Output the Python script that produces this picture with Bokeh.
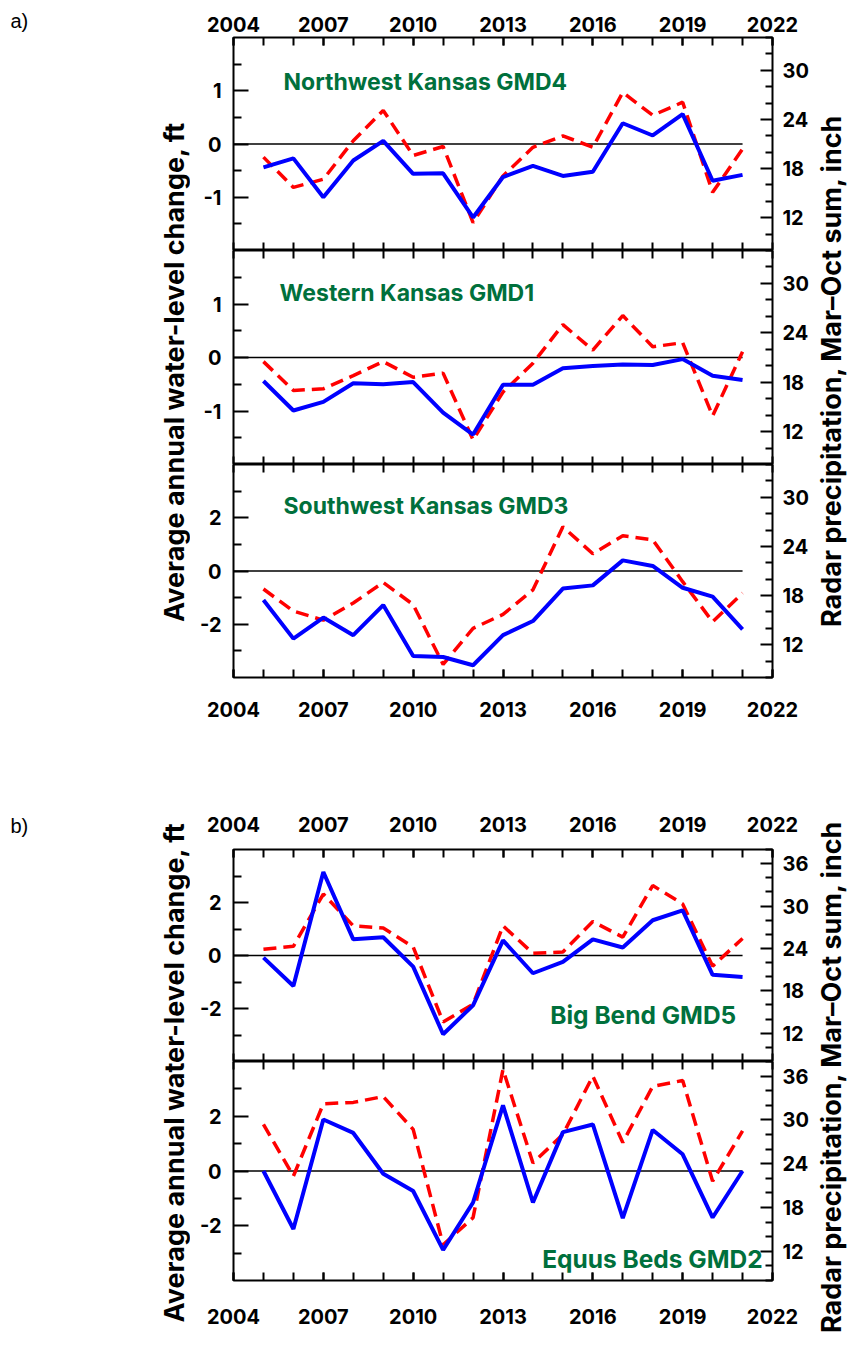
from math import pi
from bokeh.plotting import figure
from bokeh.models import Range1d, LinearAxis, FixedTicker, Label
from bokeh.layouts import column, row
from bokeh.embed import file_html
from bokeh.resources import INLINE

# ---------------- data ----------------
years = list(range(2005, 2022))
x_start, x_end = 2004, 2022
x_ticks = [2004, 2007, 2010, 2013, 2016, 2019, 2022]
x_minor_ticks = list(range(2004, 2023))

# Northwest Kansas GMD4
nw_level = [-0.44, -0.27, -1.00, -0.31, 0.06, -0.56, -0.55, -1.38, -0.62, -0.41,
            -0.60, -0.52, 0.39, 0.16, 0.56, -0.69, -0.58]
nw_precip = [19.4, 15.7, 16.7, 21.4, 25.1, 19.6, 20.7, 11.4, 17.1, 20.6,
             22.0, 20.6, 27.3, 24.5, 26.1, 15.1, 20.4]
# Western Kansas GMD1
w_level = [-0.44, -0.99, -0.83, -0.48, -0.50, -0.46, -1.03, -1.44, -0.51, -0.51,
           -0.20, -0.16, -0.13, -0.14, -0.03, -0.34, -0.42]
w_precip = [20.5, 17.0, 17.2, 18.8, 20.5, 18.6, 19.1, 11.0, 16.8, 20.3,
            25.0, 21.9, 26.1, 22.3, 22.8, 13.9, 21.7]
# Southwest Kansas GMD3
sw_level = [-1.09, -2.54, -1.75, -2.41, -1.28, -3.19, -3.23, -3.54, -2.41, -1.88,
            -0.66, -0.54, 0.40, 0.19, -0.63, -0.96, -2.19]
sw_precip = [18.8, 16.1, 15.0, 17.1, 19.6, 16.9, 9.6, 14.0, 15.7, 18.7,
             26.4, 23.1, 25.3, 24.8, 19.7, 14.8, 18.3]
# Big Bend GMD5
bb_level = [-0.08, -1.15, 3.15, 0.61, 0.69, -0.42, -2.97, -1.88, 0.57, -0.67,
            -0.24, 0.61, 0.30, 1.33, 1.70, -0.73, -0.81]
bb_precip = [23.9, 24.3, 31.7, 27.2, 26.9, 24.2, 13.6, 16.1, 27.2, 23.3,
             23.5, 27.8, 25.6, 32.9, 30.3, 21.5, 25.4]
# Equus Beds GMD2
eb_level = [0.00, -2.12, 1.88, 1.39, -0.10, -0.73, -2.88, -1.15, 2.40, -1.15,
            1.42, 1.70, -1.72, 1.50, 0.61, -1.70, 0.00]
eb_precip = [29.4, 22.3, 32.2, 32.4, 33.2, 28.7, 12.9, 16.6, 36.9, 24.1,
             28.0, 36.0, 26.9, 34.6, 35.4, 21.6, 28.5]

# tick labels
left_ticks_small = [-1, 0, 1]
left_labels_small = ["-1", "0", "1"]
left_minor_small = [-1.5, -0.5, 0.5, 1.5]
left_ticks_big = [-2, 0, 2]
left_labels_big = ["-2", "0", "2"]
left_minor_big = [-3, -1, 1, 3]
right_ticks = [12, 18, 24, 30, 36]
right_minor = [8, 10, 14, 16, 20, 22, 26, 28, 32, 34, 38]

left_title = "Average annual water-level change, ft"
right_title = "Radar precipitation, Mar\u2013Oct sum, inch"

# ---------------- style ----------------
FONT = "Inter"
GREEN = "#00703C"
BLUE = "#0000FF"
RED = "#FF0000"
FIG_W = 622
TICK_FONT = "20px"


def style_axis(ax, tick_in, minor_in, standoff):
    ax.axis_line_color = None
    ax.major_tick_out = 0
    ax.minor_tick_out = 0
    ax.major_tick_in = tick_in
    ax.minor_tick_in = minor_in
    ax.major_tick_line_width = 2
    ax.minor_tick_line_width = 2
    ax.major_tick_line_color = "black"
    ax.minor_tick_line_color = "black"
    ax.major_label_text_font = FONT
    ax.major_label_text_font_style = "bold"
    ax.major_label_text_color = "black"
    ax.major_label_text_font_size = TICK_FONT
    ax.major_label_standoff = standoff


def panel(level, precip, lrange, lticks, llabels, lminor, rrange, height,
          bl, br, bt, bb, show_top, show_bottom, st, sb,
          title, tx, ty, talign, tsize):
    p = figure(width=FIG_W, height=height,
               x_range=Range1d(x_start, x_end), y_range=Range1d(*lrange),
               x_axis_location=None, y_axis_location=None,
               output_backend="svg", toolbar_location=None,
               min_border_left=bl, min_border_right=br,
               min_border_top=bt, min_border_bottom=bb)
    p.grid.visible = False
    p.outline_line_color = "black"
    p.outline_line_width = 2
    p.background_fill_color = "white"
    p.border_fill_color = "white"
    p.extra_y_ranges = {"precip": Range1d(*rrange)}

    ax_b = LinearAxis(ticker=FixedTicker(ticks=x_ticks if show_bottom else [],
                                         minor_ticks=x_minor_ticks))
    ax_t = LinearAxis(ticker=FixedTicker(ticks=x_ticks if show_top else [],
                                         minor_ticks=x_minor_ticks))
    ax_l = LinearAxis(ticker=FixedTicker(ticks=lticks, minor_ticks=lminor),
                      major_label_overrides=dict(zip(lticks, llabels)))
    ax_r = LinearAxis(y_range_name="precip",
                      ticker=FixedTicker(ticks=right_ticks, minor_ticks=right_minor))
    style_axis(ax_b, 8, 8, sb)
    style_axis(ax_t, 8, 8, st)
    style_axis(ax_l, 15, 8, 12)
    style_axis(ax_r, 12, 7, 10)
    p.add_layout(ax_b, "below")
    p.add_layout(ax_t, "above")
    p.add_layout(ax_l, "left")
    p.add_layout(ax_r, "right")

    p.segment(x0=[x_start], y0=[0], x1=[years[-1]], y1=[0],
              line_color="black", line_width=1.5)
    p.line(years, precip, y_range_name="precip", line_color=RED,
           line_width=3.5, line_dash="13 7")
    p.line(years, level, line_color=BLUE, line_width=4)

    p.add_layout(Label(x=tx, y=ty, text=title, text_font=FONT,
                       text_font_style="bold", text_font_size=tsize,
                       text_color=GREEN, text_align=talign,
                       text_baseline="middle"))
    return p


f1 = panel(nw_level, nw_precip, (-2, 2), left_ticks_small, left_labels_small,
           left_minor_small, (8, 34), 250, 43, 40, 37, 0, True, False, 6, 0,
           "Northwest Kansas GMD4", 2005.67, 1.16, "left", "23px")
f2 = panel(w_level, w_precip, (-2, 2), left_ticks_small, left_labels_small,
           left_minor_small, (8, 34), 214, 43, 40, 0, 0, False, False, 0, 0,
           "Western Kansas GMD1", 2005.54, 1.20, "left", "23px")
f3 = panel(sw_level, sw_precip, (-4, 4), left_ticks_big, left_labels_big,
           left_minor_big, (8, 34), 349, 43, 40, 0, 136, False, True, 0, 24,
           "Southwest Kansas GMD3", 2005.67, 2.46, "left", "23px")
f4 = panel(bb_level, bb_precip, (-4, 4), left_ticks_big, left_labels_big,
           left_minor_big, (8, 38), 248, 36, 36, 29, 0, True, False, 18, 0,
           "Big Bend GMD5", 2020.79, -2.26, "right", "24.5px")
f5 = panel(eb_level, eb_precip, (-4, 4), left_ticks_big, left_labels_big,
           left_minor_big, (8, 38), 287, 36, 36, 0, 68, False, True, 0, 28,
           "Equus Beds GMD2", 2021.67, -3.2, "right", "24.5px")

TOTAL_H = 250 + 214 + 349 + 248 + 287


def label_fig(width):
    q = figure(width=width, height=TOTAL_H, x_range=Range1d(0, width),
               y_range=Range1d(TOTAL_H, 0), x_axis_location=None,
               y_axis_location=None, output_backend="svg",
               toolbar_location=None, min_border=0)
    q.grid.visible = False
    q.outline_line_color = None
    q.background_fill_color = "white"
    q.border_fill_color = "white"
    return q


lf = label_fig(190)
for txt, yy in (("a)", 20), ("b)", 825)):
    lf.add_layout(Label(x=10, y=yy, text=txt, text_font="Liberation Sans",
                        text_font_size="20px", text_color="black",
                        text_align="left", text_baseline="middle"))
for yy in (371.5, 1072):
    lf.add_layout(Label(x=174, y=yy, text=left_title, angle=pi / 2,
                        text_font=FONT, text_font_style="bold",
                        text_font_size="27px", text_color="black",
                        text_align="center", text_baseline="middle"))

rf = label_fig(36)
for yy in (370, 1076):
    rf.add_layout(Label(x=19, y=yy, text=right_title, angle=pi / 2,
                        text_font=FONT, text_font_style="bold",
                        text_font_size="27px", text_color="black",
                        text_align="center", text_baseline="middle"))

layout = row(lf, column(f1, f2, f3, f4, f5), rf)
open("out.html", "w").write(file_html(layout, INLINE))
